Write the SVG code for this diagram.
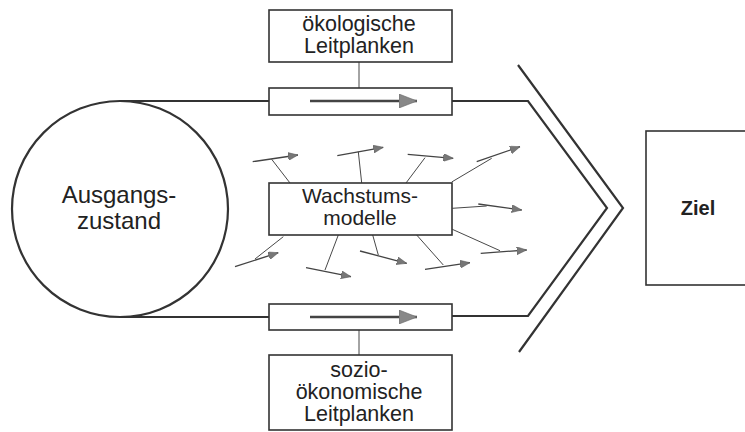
<svg xmlns="http://www.w3.org/2000/svg" width="745" height="432" viewBox="0 0 745 432">
<defs>
<style>
text{font-family:"Liberation Sans",Arial,sans-serif;fill:#222;text-anchor:middle}
.box{fill:#fff;stroke:#333;stroke-width:1.6}
.main{fill:none;stroke:#333;stroke-width:2.2}
.link{fill:none;stroke:#333;stroke-width:0.9}
.sarr{fill:none;stroke:#444;stroke-width:1.3;marker-end:url(#sh)}
.barr{fill:none;stroke:#444;stroke-width:2.6;marker-end:url(#bh)}
.lt{font-size:21.5px}
</style>
<marker id="sh" viewBox="0 0 10 8" refX="10" refY="4" markerWidth="10" markerHeight="8" markerUnits="userSpaceOnUse" orient="auto">
<path d="M0,0 L10,4 L0,8 Z" fill="#777" stroke="#555" stroke-width="0.5"/>
</marker>
<marker id="bh" viewBox="0 0 18 14" refX="18" refY="7" markerWidth="18" markerHeight="14" markerUnits="userSpaceOnUse" orient="auto">
<path d="M0,0 L18,7 L0,14 Z" fill="#888" stroke="#666" stroke-width="0.6"/>
</marker>
</defs>
<rect width="745" height="432" fill="#fff"/>
<g id="kanal-oben">
<rect class="box" x="269" y="88" width="183" height="27"/>
</g>
<g id="kanal-unten">
<rect class="box" x="269" y="304" width="183" height="26"/>
</g>
<g id="connectors">
<path class="main" d="M120,101 H269 M452,101 H528 L607,208 L528,316 H452 M269,317 H120"/>
<path class="main" d="M518,65 L623,208 L519,352"/>
<path class="link" d="M359,62 V88 M359,330 V355"/>
<path class="barr" d="M310,101 H417"/>
<path class="barr" d="M310,317 H417"/>
<path class="link" d="M290,183 L271.7,159.3 M361.7,183 L358.3,151.7 M406,183 L425,157.7 M451.7,182 L491.7,158.3 M452.3,208.3 L486.7,206 M452.3,229.3 L500,250.7 M416.7,235 L443.3,265 M372.7,235 L378.3,255 M338.3,235 L325,270 M283.3,236.7 L255,259"/>
<path class="sarr" d="M252.7,161.7 L298,155"/>
<path class="sarr" d="M337.3,155.7 L383.3,147.3"/>
<path class="sarr" d="M407.7,154.3 L453.3,158.3"/>
<path class="sarr" d="M476.7,161.7 L520,146.7"/>
<path class="sarr" d="M478.3,204 L521.7,210"/>
<path class="sarr" d="M480.7,253.3 L526.7,250"/>
<path class="sarr" d="M425,269.3 L470,262.7"/>
<path class="sarr" d="M360,251 L406.7,263.3"/>
<path class="sarr" d="M306,267.7 L351,276.7"/>
<path class="sarr" d="M235,266.7 L278.3,252.7"/>
</g>
<g id="ausgangszustand">
<circle cx="120" cy="209" r="108" fill="#fff" stroke="#333" stroke-width="2.2"/>
<text x="119" y="203" font-size="24">Ausgangs-</text>
<text x="119" y="229" font-size="24">zustand</text>
</g>
<g id="oekologisch">
<rect class="box" x="269" y="10" width="183" height="52"/>
<text class="lt" x="359" y="31">ökologische</text>
<text class="lt" x="359" y="53">Leitplanken</text>
</g>
<g id="wachstumsmodelle">
<rect class="box" x="269" y="183" width="183" height="52"/>
<text x="360" y="203" font-size="21">Wachstums-</text>
<text x="360" y="225" font-size="21">modelle</text>
</g>
<g id="soziooekonomisch">
<rect class="box" x="269" y="355" width="183" height="75"/>
<text class="lt" x="359" y="377">sozio-</text>
<text class="lt" x="359" y="399">ökonomische</text>
<text class="lt" x="359" y="421">Leitplanken</text>
</g>
<g id="ziel">
<rect class="box" x="646" y="131" width="110" height="154"/>
<text x="698" y="215" font-size="20" font-weight="bold">Ziel</text>
</g>
</svg>
